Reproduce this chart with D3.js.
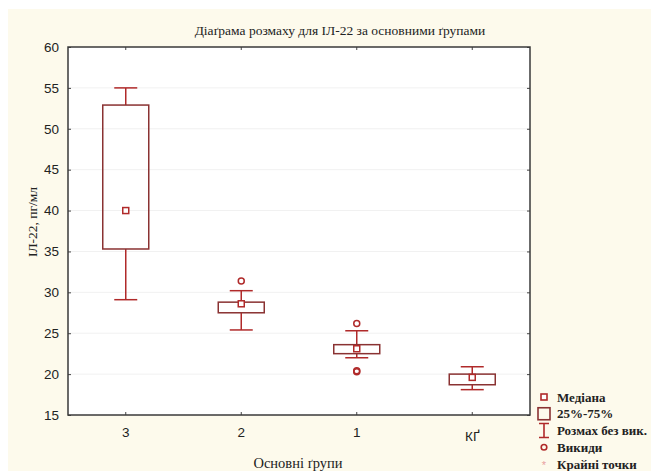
<!DOCTYPE html>
<html>
<head>
<meta charset="utf-8">
<script src="https://cdn.jsdelivr.net/npm/d3@7"></script>
<style>
  body { margin: 0; background: #fff; }
  svg { display: block; }
</style>
</head>
<body>
<svg id="chart" width="651" height="471"></svg>
<script>
// data
const groups = ["3", "2", "1", "КҐ"];
const whiskerHigh = [55.0, 30.2, 25.3, 20.9];
const q3 = [52.9, 28.8, 23.6, 20.0];
const medians = [40.0, 28.6, 23.1, 19.6];
const q1 = [35.3, 27.5, 22.5, 18.7];
const whiskerLow = [29.1, 25.4, 22.0, 18.1];
const outliers = [[], [31.4], [26.2, 20.3, 20.4], []];
const yTicks = [15, 20, 25, 30, 35, 40, 45, 50, 55, 60];

const legendItems = ["Медіана", "25%-75%", "Розмах без вик.", "Викиди", "Крайні точки"];

const boxColor = "#8a3232";
const redColor = "#b02a2a";

const svg = d3.select("#chart");

// cream page background
svg.append("rect")
  .attr("x", 8).attr("y", 9)
  .attr("width", 651 - 8).attr("height", 471 - 9)
  .attr("fill", "#fdfaec");

const margin = {top: 47, right: 121, bottom: 56, left: 68};
const W = 651, H = 471;

const x = d3.scaleBand()
  .domain(groups)
  .range([margin.left, W - margin.right]);

const y = d3.scaleLinear()
  .domain([15, 60])
  .range([H - margin.bottom, margin.top]);

// plot area
svg.append("rect")
  .attr("x", margin.left).attr("y", margin.top)
  .attr("width", W - margin.right - margin.left)
  .attr("height", H - margin.bottom - margin.top)
  .attr("fill", "#fff");

// faint gridlines
svg.append("g")
  .selectAll("line")
  .data(yTicks.slice(1, -1))
  .join("line")
  .attr("x1", margin.left).attr("x2", W - margin.right)
  .attr("y1", d => y(d)).attr("y2", d => y(d))
  .attr("stroke", "#f1f1f1");

// axes with inward ticks on all sides
const axisFont = "Liberation Sans, Arial, sans-serif";

svg.append("g")
  .attr("transform", `translate(${margin.left},0)`)
  .call(d3.axisLeft(y).tickValues(yTicks).tickSize(-3).tickPadding(9))
  .call(g => g.select(".domain").remove())
  .call(g => g.selectAll("text").attr("font-family", axisFont).attr("font-size", 13.5).attr("fill", "#222"));

svg.append("g")
  .attr("transform", `translate(${W - margin.right},0)`)
  .call(d3.axisRight(y).tickValues(yTicks).tickSize(-3).tickFormat(""))
  .call(g => g.select(".domain").remove());

svg.append("g")
  .attr("transform", `translate(0,${H - margin.bottom})`)
  .call(d3.axisBottom(x).tickSize(-3).tickPadding(12))
  .call(g => g.select(".domain").remove())
  .call(g => g.selectAll("text").attr("font-family", axisFont).attr("font-size", 13.5).attr("fill", "#222"))
  .call(g => g.selectAll("text").filter(d => d === "КҐ").attr("dy", "1.05em"));

svg.append("g")
  .attr("transform", `translate(0,${margin.top})`)
  .call(d3.axisTop(x).tickSize(-3).tickFormat(""))
  .call(g => g.select(".domain").remove());

svg.selectAll(".tick line").attr("stroke", "#444");

// frame
svg.append("rect")
  .attr("x", margin.left).attr("y", margin.top)
  .attr("width", W - margin.right - margin.left)
  .attr("height", H - margin.bottom - margin.top)
  .attr("fill", "none")
  .attr("stroke", "#3a3a3a")
  .attr("stroke-width", 1.5);

// boxes
const boxW = 46, capW = 23;
const g = svg.append("g");

groups.forEach((grp, i) => {
  const cx = x(grp) + x.bandwidth() / 2;

  // whisker stems
  g.append("line")
    .attr("x1", cx).attr("x2", cx)
    .attr("y1", y(whiskerHigh[i])).attr("y2", y(q3[i]))
    .attr("stroke", redColor).attr("stroke-width", 1.5);
  g.append("line")
    .attr("x1", cx).attr("x2", cx)
    .attr("y1", y(q1[i])).attr("y2", y(whiskerLow[i]))
    .attr("stroke", redColor).attr("stroke-width", 1.5);
  // caps
  [whiskerHigh[i], whiskerLow[i]].forEach(v => {
    g.append("line")
      .attr("x1", cx - capW / 2).attr("x2", cx + capW / 2)
      .attr("y1", y(v)).attr("y2", y(v))
      .attr("stroke", redColor).attr("stroke-width", 1.5);
  });
  // box
  g.append("rect")
    .attr("x", cx - boxW / 2).attr("y", y(q3[i]))
    .attr("width", boxW).attr("height", y(q1[i]) - y(q3[i]))
    .attr("fill", "none")
    .attr("stroke", boxColor).attr("stroke-width", 1.5);
  // median marker
  g.append("rect")
    .attr("x", cx - 3).attr("y", y(medians[i]) - 3)
    .attr("width", 6).attr("height", 6)
    .attr("fill", "#fff")
    .attr("stroke", redColor).attr("stroke-width", 1.5);
  // outliers
  outliers[i].forEach(v => {
    g.append("circle")
      .attr("cx", cx).attr("cy", y(v)).attr("r", 3)
      .attr("fill", "none")
      .attr("stroke", redColor).attr("stroke-width", 1.5);
  });
});

// titles
const serif = "Liberation Serif, Times New Roman, serif";

svg.append("text")
  .attr("x", 340).attr("y", 35)
  .attr("text-anchor", "middle")
  .attr("font-family", serif).attr("font-size", 13.5)
  .attr("fill", "#222")
  .text("Діаґрама розмаху для ІЛ-22 за основними ґрупами");

svg.append("text")
  .attr("transform", `translate(37,${222}) rotate(-90)`)
  .attr("text-anchor", "middle")
  .attr("font-family", serif).attr("font-size", 13.5)
  .attr("fill", "#222")
  .text("ІЛ-22, пг/мл");

svg.append("text")
  .attr("x", 298).attr("y", 468)
  .attr("text-anchor", "middle")
  .attr("font-family", serif).attr("font-size", 14.5)
  .attr("fill", "#222")
  .text("Основні ґрупи");

// legend
const leg = svg.append("g");
const legY = d3.scalePoint().domain(legendItems).range([397, 464]);
const mx = 544;

leg.selectAll("text")
  .data(legendItems)
  .join("text")
  .attr("x", 557)
  .attr("y", d => legY(d) + 4.5)
  .attr("font-family", serif).attr("font-size", 13)
  .attr("font-weight", 600)
  .attr("fill", "#222")
  .text(d => d);

// median symbol
leg.append("rect")
  .attr("x", mx - 3).attr("y", legY("Медіана") - 3)
  .attr("width", 6).attr("height", 6)
  .attr("fill", "#fff").attr("stroke", redColor).attr("stroke-width", 1.6);
// box symbol
leg.append("rect")
  .attr("x", mx - 6).attr("y", legY("25%-75%") - 6)
  .attr("width", 12).attr("height", 12)
  .attr("fill", "none").attr("stroke", boxColor).attr("stroke-width", 1.6);
// whisker symbol
const wy = legY("Розмах без вик.");
leg.append("path")
  .attr("d", `M${mx - 5},${wy - 7}H${mx + 5}M${mx},${wy - 7}V${wy + 7}M${mx - 5},${wy + 7}H${mx + 5}`)
  .attr("fill", "none").attr("stroke", redColor).attr("stroke-width", 1.6);
// outlier symbol
leg.append("circle")
  .attr("cx", mx).attr("cy", legY("Викиди")).attr("r", 2.8)
  .attr("fill", "none").attr("stroke", redColor).attr("stroke-width", 1.6);
// extreme symbol
leg.append("text")
  .attr("x", mx).attr("y", legY("Крайні точки") + 5)
  .attr("text-anchor", "middle")
  .attr("font-family", axisFont).attr("font-size", 11)
  .attr("fill", "#e8a0a0")
  .text("*");
</script>
</body>
</html>
